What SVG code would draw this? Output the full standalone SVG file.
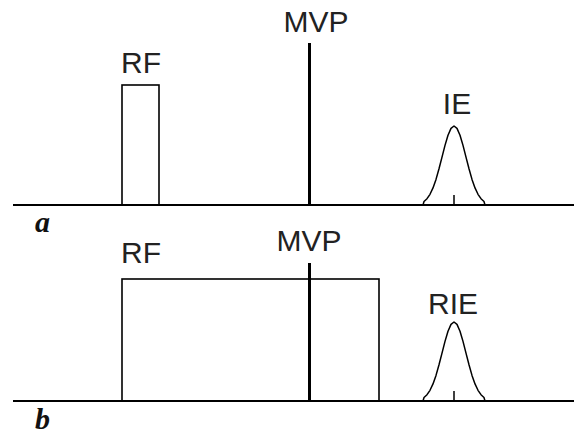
<svg xmlns="http://www.w3.org/2000/svg" xmlns:xlink="http://www.w3.org/1999/xlink" width="574" height="436" viewBox="0 0 574 436">
<style>
.lbl{font-family:"Liberation Sans",Arial,sans-serif;font-size:30px;fill:#222;text-anchor:middle}
.pan{font-family:"Liberation Serif","Times New Roman",serif;font-size:30px;font-weight:bold;font-style:italic;fill:#111}
.ln{stroke:#000;fill:none}
.axis{stroke:#000;stroke-width:2}
.box{stroke:#000;stroke-width:1.6;fill:none}
.mvp{stroke:#000;stroke-width:3}
.pk{stroke:#000;stroke-width:1.5;fill:none;stroke-linejoin:round}
</style>
<defs>
<path id="peak" d="M-31,0 L-30,-3.5 L-27,-6.3 L-24,-10.7 L-21,-17.1 L-18,-25.6 L-15,-36.2 L-12,-47.9 L-9,-59.6 L-6,-69.7 L-3,-76.6 L0,-79 L3,-76.6 L6,-69.7 L9,-59.6 L12,-47.9 L15,-36.2 L18,-25.6 L21,-17.1 L24,-10.7 L27,-6.3 L30,-3.5 L31,0 M0,0 L0,-10"/>
</defs>
<rect width="574" height="436" fill="#fff"/>
<g id="panel-a">
  <line class="axis" x1="13" y1="205" x2="574" y2="205"/>
  <text class="pan" x="35" y="232">a</text>
  <g id="rf-a"><rect class="box" x="122" y="85" width="37" height="120"/><text class="lbl" x="141" y="73">RF</text></g>
  <g id="mvp-a"><line class="mvp" x1="309.5" y1="43" x2="309.5" y2="205"/><text class="lbl" x="316" y="32">MVP</text></g>
  <g id="ie-a"><use xlink:href="#peak" class="pk" transform="translate(454,205)"/><text class="lbl" x="457" y="114">IE</text></g>
</g>
<g id="panel-b">
  <line class="axis" x1="13" y1="401" x2="574" y2="401"/>
  <text class="pan" x="35" y="429">b</text>
  <g id="rf-b"><rect class="box" x="122" y="279" width="257" height="122"/><text class="lbl" x="141" y="263">RF</text></g>
  <g id="mvp-b"><line class="mvp" x1="309.5" y1="263" x2="309.5" y2="401"/><text class="lbl" x="309" y="251">MVP</text></g>
  <g id="rie-b"><use xlink:href="#peak" class="pk" transform="translate(454,401)"/><text class="lbl" x="453" y="314">RIE</text></g>
</g>
<g id="connectors"></g>
</svg>
